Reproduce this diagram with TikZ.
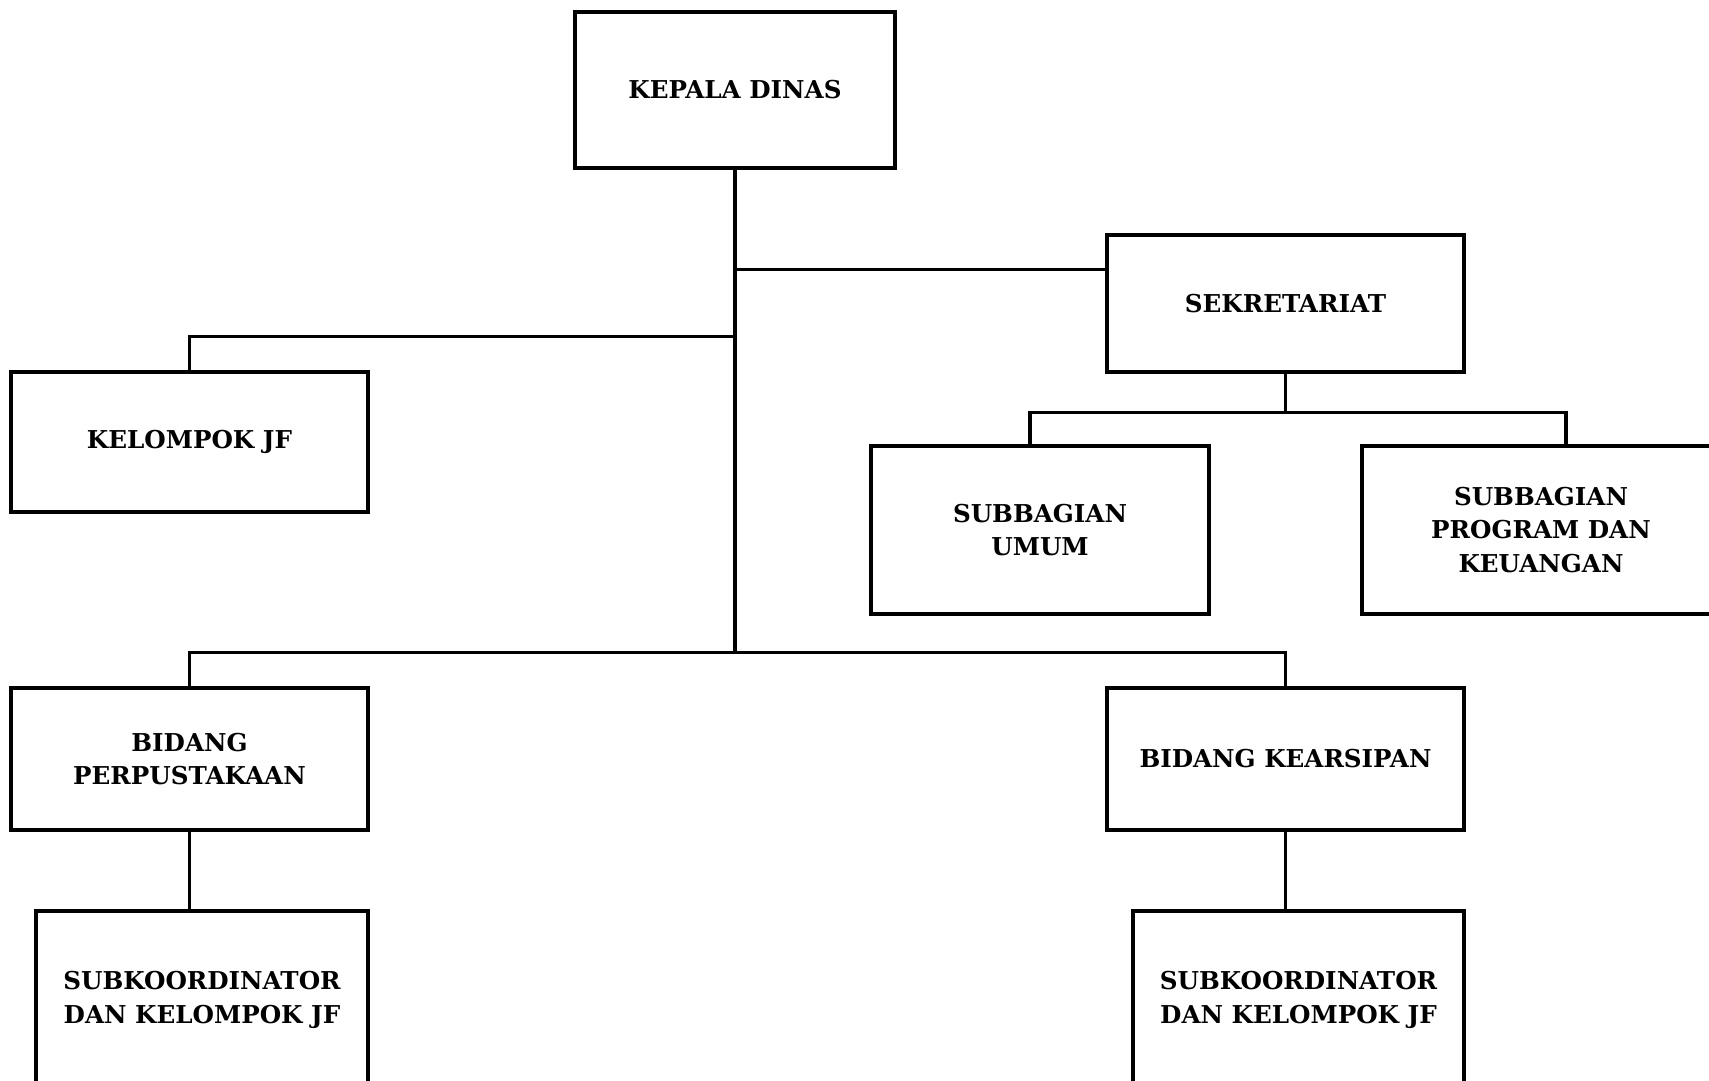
\documentclass[tikz,border=0pt]{standalone}
\usepackage{fontspec}
\setmainfont{DejaVu Serif}
\usepackage{tikz}
\usetikzlibrary{positioning}

\begin{document}
\begin{tikzpicture}[
  block/.style={rectangle, draw=black, line width=0.95pt, align=center, inner sep=0pt, font=\fontsize{7}{9.6}\selectfont\bfseries},
  line/.style={draw=black, line width=0.95pt}]
  \useasboundingbox (0,0) rectangle (17.09,-10.81);

  \node [block, minimum width=3.2cm, minimum height=1.56cm] (kepala) at (7.35,-0.90) {KEPALA DINAS};
  \node [block, minimum width=3.57cm, minimum height=1.37cm] (sekretariat) at (12.855,-3.035) {SEKRETARIAT};
  \node [block, minimum width=3.57cm, minimum height=1.40cm] (kelompok) at (1.895,-4.42) {KELOMPOK JF};
  \node [block, minimum width=3.38cm, minimum height=1.68cm] (umum) at (10.40,-5.30) {SUBBAGIAN\\UMUM};
  \node [block, minimum width=3.58cm, minimum height=1.68cm] (program) at (15.41,-5.30) {SUBBAGIAN\\PROGRAM DAN\\KEUANGAN};
  \node [block, minimum width=3.57cm, minimum height=1.42cm] (bidp) at (1.895,-7.59) {BIDANG\\PERPUSTAKAAN};
  \node [block, minimum width=3.57cm, minimum height=1.42cm] (bidk) at (12.855,-7.59) {BIDANG KEARSIPAN};
  \node [block, minimum width=3.32cm, minimum height=1.78cm] (subp) at (2.02,-10.00) {SUBKOORDINATOR\\DAN KELOMPOK JF};
  \node [block, minimum width=3.31cm, minimum height=1.78cm] (subk) at (12.985,-10.00) {SUBKOORDINATOR\\DAN KELOMPOK JF};

  % junctions on the trunk
  \coordinate (sekjoin) at ([yshift=-3.6mm]sekretariat.north west);
  \coordinate (jfjoin) at ([yshift=3.4mm]kelompok.north);
  \coordinate (lowbus) at ([yshift=3.4mm]bidp.north);
  \coordinate (subbus) at ([yshift=-3.9mm]sekretariat.south);

  \draw [line] (kepala.south) -- (kepala.south |- lowbus);
  \draw [line] (sekjoin) -- (sekjoin -| kepala.south);
  \draw [line] (kelompok.north) -- (jfjoin) -- (jfjoin -| kepala.south);
  \draw [line] (bidp.north) -- (lowbus) -| (bidk.north);

  % sekretariat
  \draw [line] (sekretariat.south) -- (subbus);
  \draw [line] ([xshift=-1mm]umum.north) |- (subbus) -| ([xshift=2.5mm]program.north);

  % bidang
  \draw [line] (bidp.south) -- (bidp.south |- subp.north);
  \draw [line] (bidk.south) -- (bidk.south |- subk.north);
\end{tikzpicture}
\end{document}
